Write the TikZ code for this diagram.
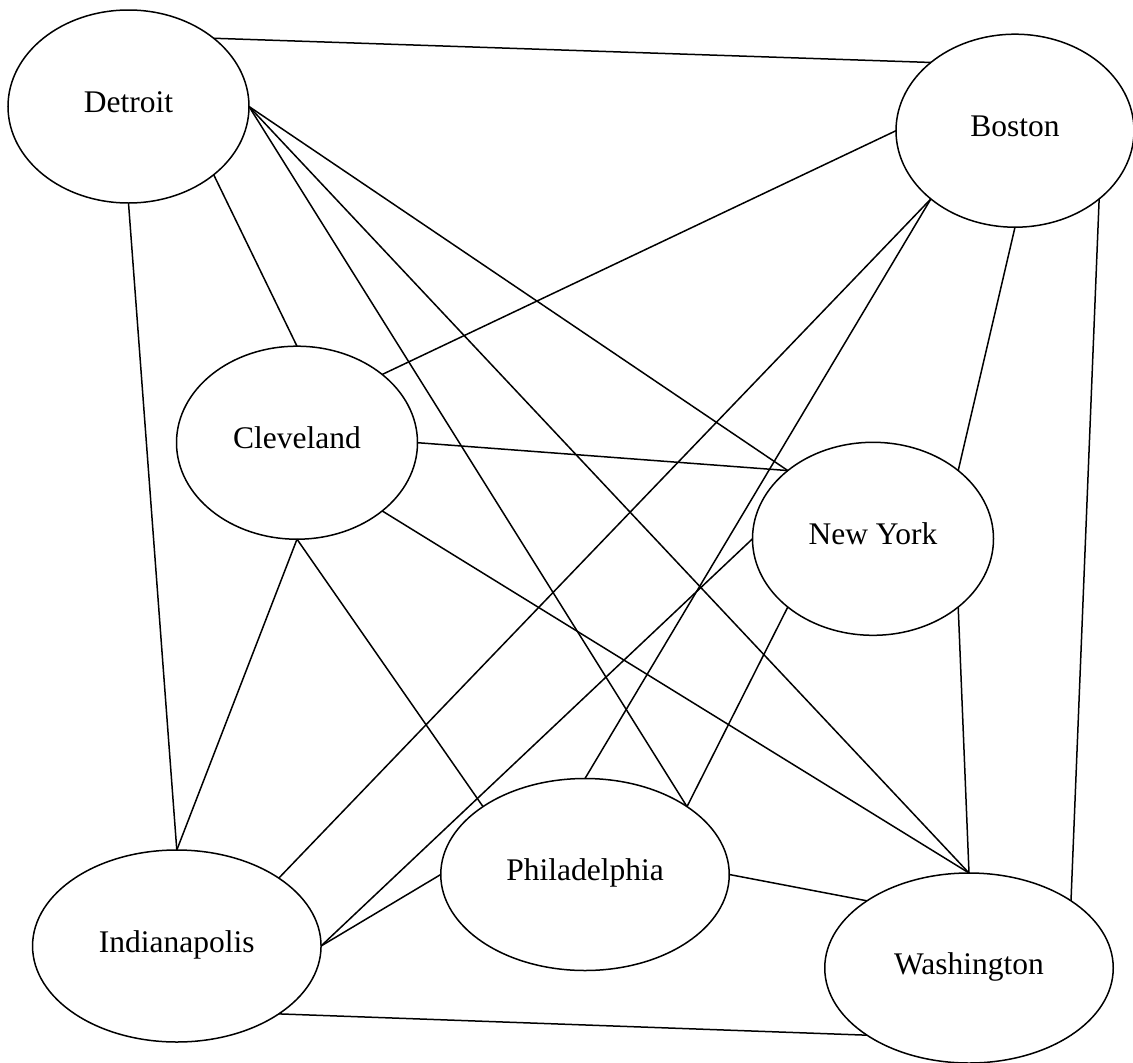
\documentclass[tikz,border=0pt]{standalone}
\usepackage{fontspec}
\setmainfont{Liberation Serif}
\usetikzlibrary{shapes.geometric}
\begin{document}
\begin{tikzpicture}[x=1pt,y=-1pt,
  city/.style={draw=black, line width=1.5pt, ellipse, inner sep=0pt, outer sep=0pt,
    font=\fontsize{31.5}{36}\selectfont, text height=22pt, text depth=10pt},
  small/.style={city, minimum width=241pt, minimum height=193pt},
  large/.style={city, minimum width=288.5pt, minimum height=192pt},
  link/.style={draw=black, line width=1.5pt}]
\useasboundingbox (0,0) rectangle (1133,1063);

% cities
\node[small] (det) at (128.5,106.5) {Detroit};
\node[small, minimum width=238pt] (bos) at (1015,130.7) {Boston};
\node[small] (cle) at (297,442.7) {Cleveland};
\node[small] (ny)  at (873,538.8) {New York};
\node[large] (phi) at (585,874.5) {Philadelphia};
\node[large] (ind) at (176.8,946) {Indianapolis};
\node[large, minimum height=190pt] (was) at (969,968) {Washington};

% every pair of cities is joined
\draw[link] (det.north east) -- (bos.north west);
\draw[link] (det.south east) -- (cle.north);
\draw[link] (det.south) -- (ind.north);
\draw[link] (det.east) -- (ny.north west);
\draw[link] (det.east) -- (phi.north east);
\draw[link] (det.east) -- (was.north);
\draw[link] (bos.west) -- (cle.north east);
\draw[link] (bos.south west) -- (ind.north east);
\draw[link] (bos.south west) -- (phi.north);
\draw[link] (bos.south) -- (ny.north east);
\draw[link] (bos.south east) -- (was.north east);
\draw[link] (cle.east) -- (ny.north west);
\draw[link] (cle.south) -- (ind.north);
\draw[link] (cle.south) -- (phi.north west);
\draw[link] (cle.south east) -- (was.north);
\draw[link] (ny.west) -- (ind.east);
\draw[link] (ny.south west) -- (phi.north east);
\draw[link] (ny.south east) -- (was.north);
\draw[link] (phi.west) -- (ind.east);
\draw[link] (phi.east) -- (was.north west);
\draw[link] (ind.south east) -- (was.south west);
\end{tikzpicture}
\end{document}
